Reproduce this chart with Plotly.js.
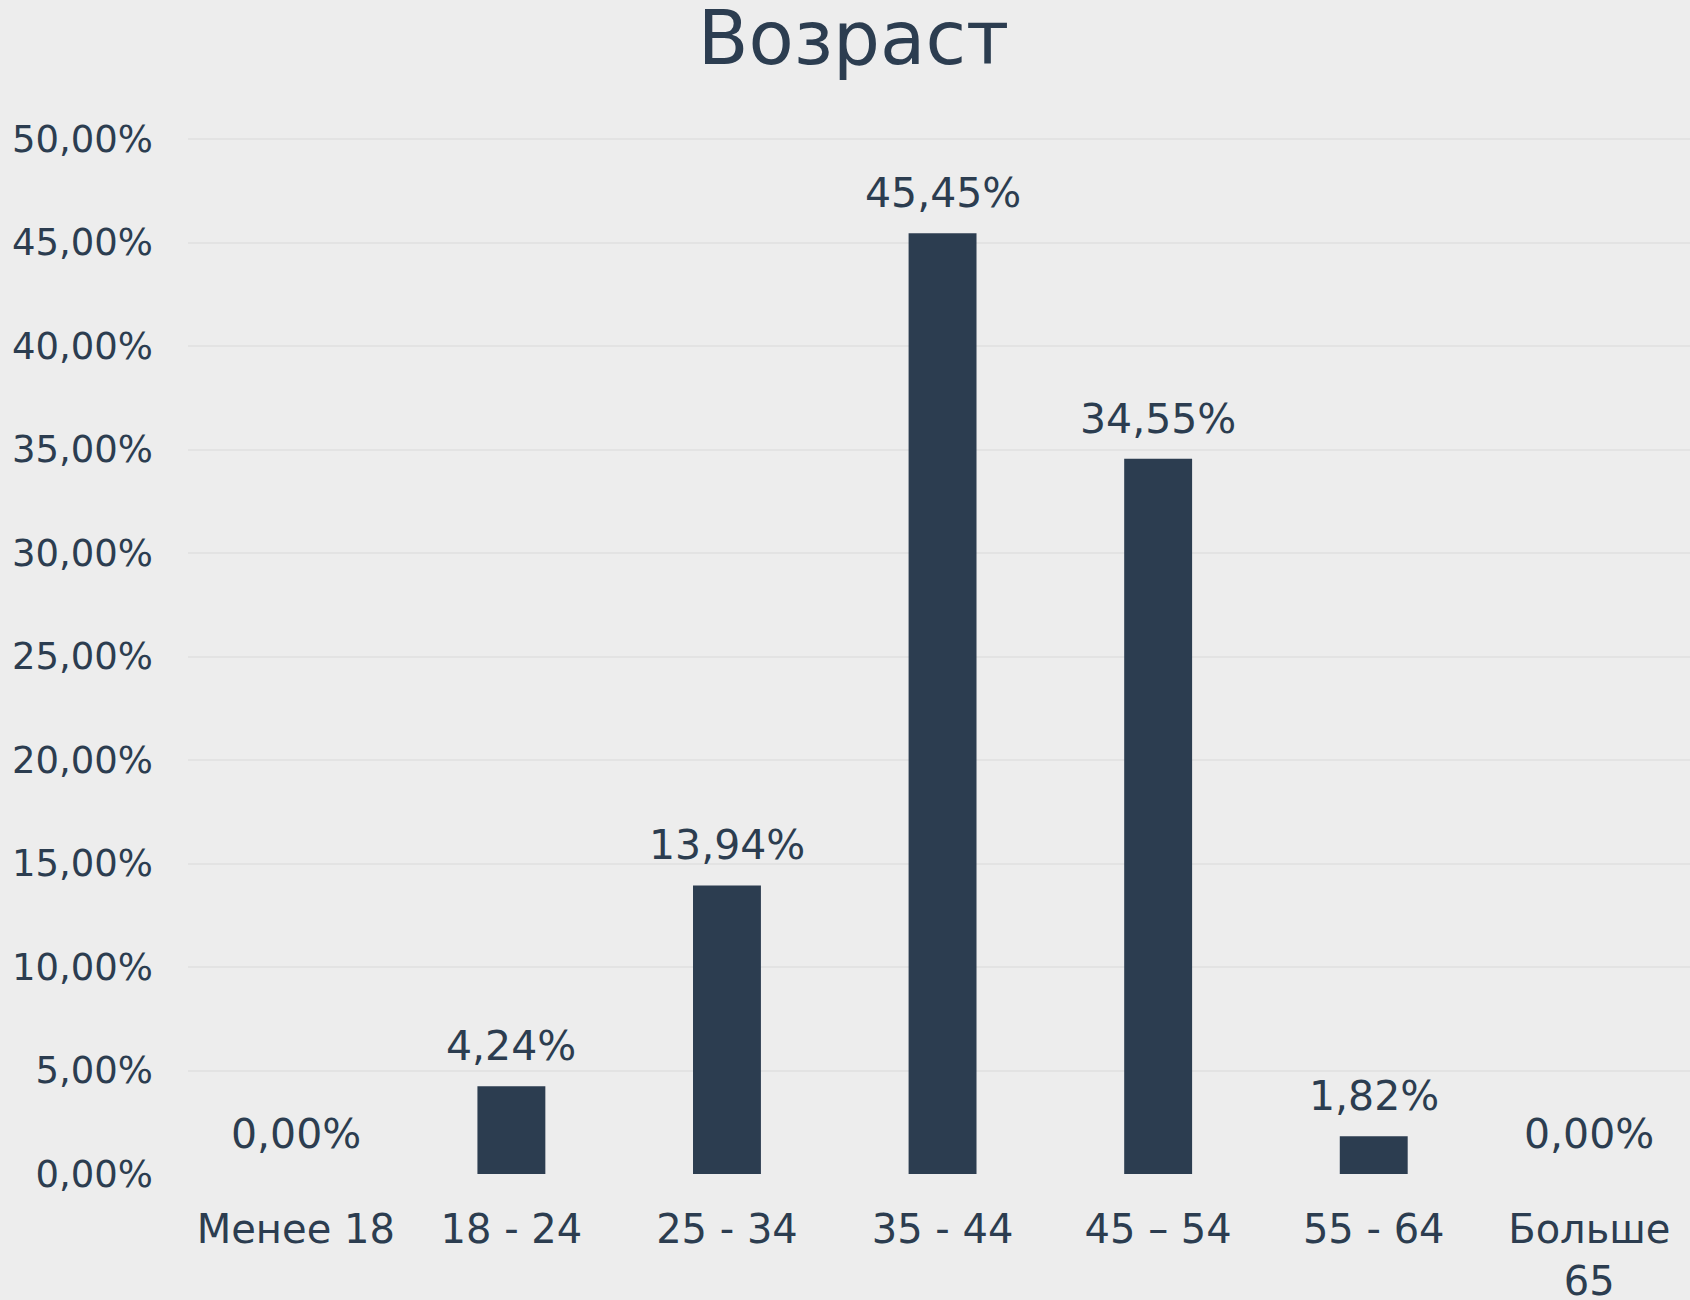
<!DOCTYPE html>
<html>
<head>
<meta charset="utf-8">
<script src="https://cdn.plot.ly/plotly-3.0.1.min.js"></script>
<style>
html,body{margin:0;padding:0;background:#ededed;}
#chart{width:1690px;height:1300px;}
</style>
</head>
<body>
<div id="chart"></div>
<script>
const categories = ["Менее 18", "18 - 24", "25 - 34", "35 - 44", "45 – 54", "55 - 64", "Больше<br>65"];
const values = [0.00, 4.24, 13.94, 45.45, 34.55, 1.82, 0.00];
const labels = ["0,00%", "4,24%", "13,94%", "45,45%", "34,55%", "1,82%", "0,00%"];
const titleText = "Возраст";

const textColor = "#2c3d50";
const barColor = "#2c3d50";
const fontFam = "'DejaVu Sans', sans-serif";

const trace = {
  type: "bar",
  x: categories,
  y: values,
  marker: {color: barColor},
  width: 0.315,
  hoverinfo: "none"
};

const annotations = categories.map((c, i) => ({
  x: c,
  y: values[i],
  xref: "x",
  yref: "y",
  text: labels[i],
  showarrow: false,
  xanchor: "center",
  yanchor: "bottom",
  yshift: 14,
  font: {family: fontFam, size: 41, color: textColor}
}));

const layout = {
  width: 1690,
  height: 1300,
  paper_bgcolor: "#ededed",
  plot_bgcolor: "#ededed",
  separators: ", ",
  margin: {l: 188, r: 0, t: 138, b: 126},
  showlegend: false,
  title: {
    text: titleText,
    font: {family: fontFam, size: 74, color: textColor},
    x: 0.505,
    xanchor: "center",
    xref: "container",
    y: 1 - 38 / 1300,
    yref: "container",
    yanchor: "middle"
  },
  xaxis: {
    type: "category",
    range: [-0.5, 6.467],
    showgrid: false,
    zeroline: false,
    showline: false,
    ticks: "",
    ticklabelstandoff: 28,
    tickfont: {family: fontFam, size: 40, color: textColor},
    fixedrange: true
  },
  yaxis: {
    range: [0, 50.05],
    dtick: 5,
    tick0: 0,
    tickformat: ".2f",
    ticksuffix: "%",
    showgrid: true,
    gridcolor: "#e3e3e3",
    gridwidth: 2,
    zeroline: false,
    showline: false,
    ticks: "",
    ticklabelstandoff: 34,
    tickfont: {family: fontFam, size: 37, color: textColor},
    fixedrange: true
  },
  annotations: annotations
};

Plotly.newPlot("chart", [trace], layout, {staticPlot: true, displayModeBar: false});
</script>
</body>
</html>
